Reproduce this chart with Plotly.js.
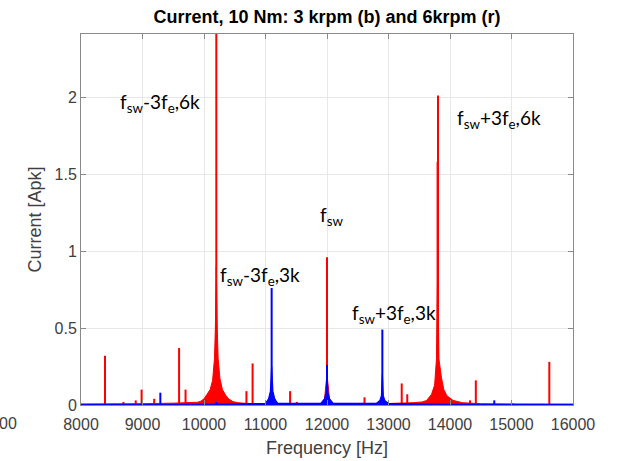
<!DOCTYPE html>
<html>
<head>
<meta charset="utf-8">
<script src="https://cdn.plot.ly/plotly-3.0.1.min.js"></script>
<style>html,body{margin:0;padding:0;background:#fff;}#chart{width:618px;height:461px;}</style>
</head>
<body>
<div id="chart"></div>
<script>
// Red (6 krpm) discrete spectral lines
const redLineFreq = [8390, 8690, 8890, 8985, 9190, 9595, 9700, 10200, 10690, 10790, 11400, 11510, 12000, 12610, 13215, 13305, 13798, 13805, 14325, 14420, 15025, 15615];
const redLineAmp  = [0.32, 0.02, 0.03, 0.10, 0.04, 0.37, 0.10, 2.60, 0.09, 0.27, 0.09, 0.02, 0.96, 0.05, 0.14, 0.07, 1.58, 2.01, 0.03, 0.16, 0.01, 0.28];

// Red noise floor and skirts
const redFloorFreq = [8000, 8500, 9000, 9500, 9800, 9900, 9950, 10000, 10050, 10100, 10140, 10170, 10185, 10200, 10215, 10230, 10260, 10300, 10350, 10400, 10470, 10550, 10700, 11000, 11500, 11900, 11960, 12000, 12040, 12100, 12500, 13000, 13400, 13550, 13620, 13700, 13750, 13780, 13800, 13820, 13860, 13900, 13950, 14050, 14200, 14500, 15000, 16000];
const redFloorAmp  = [0.006, 0.006, 0.008, 0.012, 0.015, 0.018, 0.025, 0.04, 0.07, 0.10, 0.16, 0.30, 0.50, 0.90, 0.50, 0.30, 0.17, 0.10, 0.065, 0.04, 0.022, 0.015, 0.01, 0.008, 0.008, 0.01, 0.04, 0.20, 0.04, 0.01, 0.008, 0.01, 0.015, 0.02, 0.03, 0.07, 0.13, 0.30, 0.90, 0.30, 0.18, 0.10, 0.06, 0.03, 0.015, 0.008, 0.006, 0.005];

// Blue (3 krpm) discrete spectral lines
const blueLineFreq = [9290, 10200, 11100, 12000, 12900, 14720];
const blueLineAmp  = [0.08, 0.02, 0.76, 0.26, 0.49, 0.03];

// Blue noise floor and skirts
const blueFloorFreq = [8000, 9000, 10000, 11000, 11050, 11080, 11100, 11120, 11150, 11200, 11900, 11960, 11985, 12000, 12015, 12040, 12100, 12800, 12860, 12885, 12900, 12915, 12940, 13000, 14000, 16000];
const blueFloorAmp  = [0.004, 0.004, 0.005, 0.01, 0.04, 0.09, 0.25, 0.09, 0.04, 0.01, 0.01, 0.04, 0.08, 0.20, 0.08, 0.04, 0.01, 0.01, 0.03, 0.06, 0.20, 0.06, 0.03, 0.01, 0.004, 0.004];

const xTicks = [8000, 9000, 10000, 11000, 12000, 13000, 14000, 15000, 16000];
const yTicks = [0, 0.5, 1, 1.5, 2];
const yTickText = ['0', '0.5', '1', '1.5', '2'];

const RED = '#ff0000', BLUE = '#0000ff';

// vertical stems from each spectral line (x, x, gap) / (0, amp, gap)
function stems(freqs, amps) {
  const x = [], y = [];
  freqs.forEach((f, i) => { x.push(f, f, null); y.push(0, amps[i], null); });
  return {x, y};
}
const rs = stems(redLineFreq, redLineAmp);
const bs = stems(blueLineFreq, blueLineAmp);

const traces = [
  {type:'scatter', mode:'lines', x:redFloorFreq, y:redFloorAmp, fill:'tozeroy',
   line:{color:RED, width:1}, fillcolor:RED, hoverinfo:'skip', showlegend:false},
  {type:'scatter', mode:'lines', x:rs.x, y:rs.y, connectgaps:false, line:{color:RED, width:2}, showlegend:false},
  {type:'scatter', mode:'lines', x:blueFloorFreq, y:blueFloorAmp, fill:'tozeroy',
   line:{color:BLUE, width:1.2}, fillcolor:BLUE, hoverinfo:'skip', showlegend:false},
  {type:'scatter', mode:'lines', x:bs.x, y:bs.y, connectgaps:false, line:{color:BLUE, width:2}, showlegend:false}
];

const axFont = '"Liberation Sans", Arial, sans-serif';
const annFont = {family:'Lato, "Open Sans", sans-serif', size:19, color:'#000'};
const layout = {
  width:618, height:461,
  margin:{l:81, r:45, t:34, b:56, pad:0},
  paper_bgcolor:'#fff', plot_bgcolor:'#fff',
  title:{text:'<b>Current, 10 Nm: 3 krpm (b) and 6krpm (r)</b>', x:0.5292, xanchor:'center', y:0.963, yanchor:'middle',
         font:{family:axFont, size:18, color:'#000'}},
  xaxis:{range:[8000,16000], tickvals:xTicks, ticktext:xTicks.map(String), showgrid:true, gridcolor:'#e8e8e8',
         showline:true, linecolor:'#8a8a8a', linewidth:1, mirror:'ticks', ticks:'inside', ticklen:5, tickcolor:'#8a8a8a',
         zeroline:false, ticklabelstandoff:5, tickfont:{family:axFont, size:16, color:'#404040'},
         title:{text:'Frequency [Hz]', standoff:9, font:{family:axFont, size:18, color:'#404040'}}},
  yaxis:{range:[0,2.41], tickvals:yTicks, ticktext:yTickText, showgrid:true, gridcolor:'#e8e8e8',
         showline:true, linecolor:'#8a8a8a', linewidth:1, mirror:'ticks', ticks:'inside', ticklen:5, tickcolor:'#8a8a8a',
         zeroline:false, tickfont:{family:axFont, size:16, color:'#404040'},
         title:{text:'Current [Apk]', standoff:8, font:{family:axFont, size:18, color:'#404040'}}},
  annotations:[
    {x:8600, y:1.96, xref:'x', yref:'y', xanchor:'left', yanchor:'middle', showarrow:false, font:annFont,
     text:'f<sub>sw</sub>-3f<sub>e</sub>,6k'},
    {x:14081, y:1.86, xref:'x', yref:'y', xanchor:'left', yanchor:'middle', showarrow:false, font:annFont,
     text:'f<sub>sw</sub>+3f<sub>e</sub>,6k'},
    {x:11854, y:1.23, xref:'x', yref:'y', xanchor:'left', yanchor:'middle', showarrow:false, font:annFont,
     text:'f<sub>sw</sub>'},
    {x:10228, y:0.84, xref:'x', yref:'y', xanchor:'left', yanchor:'middle', showarrow:false, font:annFont,
     text:'f<sub>sw</sub>-3f<sub>e</sub>,3k'},
    {x:12374, y:0.59, xref:'x', yref:'y', xanchor:'left', yanchor:'middle', showarrow:false, font:annFont,
     text:'f<sub>sw</sub>+3f<sub>e</sub>,3k'},
    {x:-0.148, y:-0.051, xref:'paper', yref:'paper', xanchor:'center', yanchor:'middle', showarrow:false,
     font:{family:axFont, size:16, color:'#404040'}, text:'00'}
  ]
};

Plotly.newPlot('chart', traces, layout, {displayModeBar:false, staticPlot:true});
</script>
</body>
</html>
